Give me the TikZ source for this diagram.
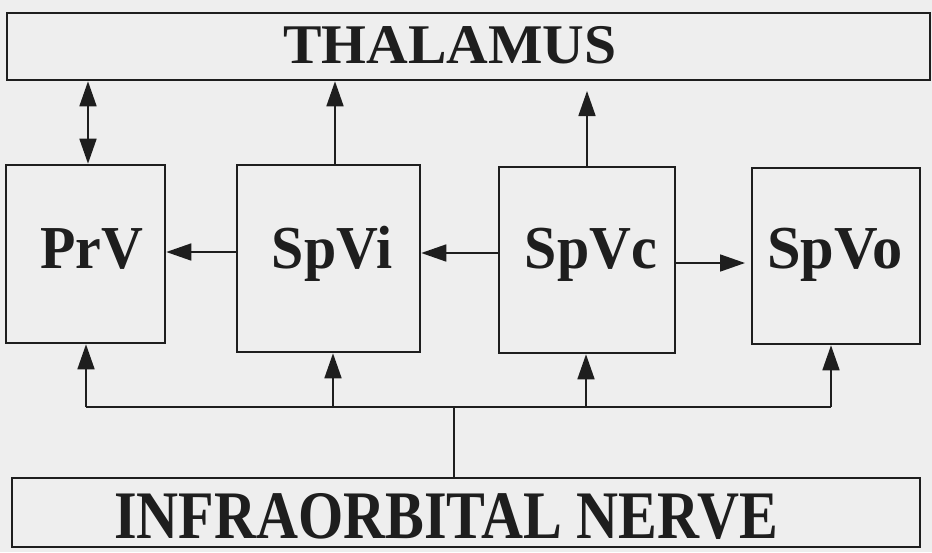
\documentclass[tikz,border=0pt]{standalone}
\usepackage{fontspec}
\setmainfont{Liberation Serif}
\usetikzlibrary{arrows.meta}
\definecolor{paper}{RGB}{238,238,238}
\definecolor{ink}{RGB}{30,30,30}
\begin{document}
\begin{tikzpicture}[x=1pt,y=-1pt,
  box/.style={draw=ink, line width=2.6pt, rectangle, inner sep=0pt},
  lab/.style={anchor=base, inner sep=0pt, text=ink, font=\bfseries},
  conn/.style={draw=ink, line width=1.7pt},
  tip/.style={-{Triangle[length=25pt,width=17pt]}}]
\fill[paper] (0,0) rectangle (932,552);
\useasboundingbox (0,0) rectangle (932,552);
% boxes
\node[box, minimum width=923pt, minimum height=67pt] (thal) at (468.5,46.5) {};
\node[box, minimum width=159pt, minimum height=178pt] (prv) at (85.5,254) {};
\node[box, minimum width=183pt, minimum height=187pt] (spvi) at (328.5,258.5) {};
\node[box, minimum width=176pt, minimum height=186pt] (spvc) at (587,260) {};
\node[box, minimum width=168pt, minimum height=176pt] (spvo) at (836,256) {};
\node[box, minimum width=908pt, minimum height=69pt] (nerve) at (466,512.5) {};
% labels
\node[lab] (tthal) at (450,63) {\fontsize{56}{56}\selectfont\scalebox{1.03}[1]{THALAMUS}};
\node[lab] (tnerve) at (446,538) {\fontsize{68}{68}\selectfont\scalebox{0.855}[1]{INFRAORBITAL NERVE}};
\node[lab] (tprv) at (92,268) {\fontsize{61}{61}\selectfont\scalebox{0.95}[1]{PrV}};
\node[lab] (tspvi) at (332,268) {\fontsize{61}{61}\selectfont\scalebox{0.95}[1]{SpVi}};
\node[lab] (tspvc) at (591,268) {\fontsize{61}{61}\selectfont\scalebox{0.95}[1]{SpVc}};
\node[lab] (tspvo) at (835,268) {\fontsize{61}{61}\selectfont\scalebox{0.99}[1]{SpVo}};
% helper coordinates
\coordinate (c1) at (88,252);
\coordinate (c2) at (335,253);
\coordinate (c3) at (587,263);
\coordinate (c4) at (831,407);
\coordinate (b1) at (86,407);
\coordinate (b2) at (333,407);
\coordinate (b3) at (586,407);
\coordinate (stem) at (454,407);
\coordinate (gap) at (587,91);
\coordinate (gap2) at (745,263);
% horizontal arrows
\draw[conn, tip] (spvi.west |- c1) -- (prv.east |- c1);
\draw[conn, tip] (spvc.west |- c2) -- (spvi.east |- c2);
\draw[conn, tip] (spvc.east |- c3) -- (gap2);
% arrows to thalamus
\draw[conn, {Triangle[length=25pt,width=17pt]}-{Triangle[length=25pt,width=17pt]}] (prv.north -| c1) -- (thal.south -| c1);
\draw[conn, tip] (spvi.north -| c2) -- (thal.south -| c2);
\draw[conn, tip] (spvc.north -| c3) -- (gap);
% bus from nerve
\draw[conn] (nerve.north -| stem) -- (stem);
\draw[conn] (b1) -- (c4);
\draw[conn, tip] (b1) -- (prv.south -| b1);
\draw[conn, tip] (b2) -- (spvi.south -| b2);
\draw[conn, tip] (b3) -- (spvc.south -| b3);
\draw[conn, tip] (c4) -- (spvo.south -| c4);
\end{tikzpicture}
\end{document}
